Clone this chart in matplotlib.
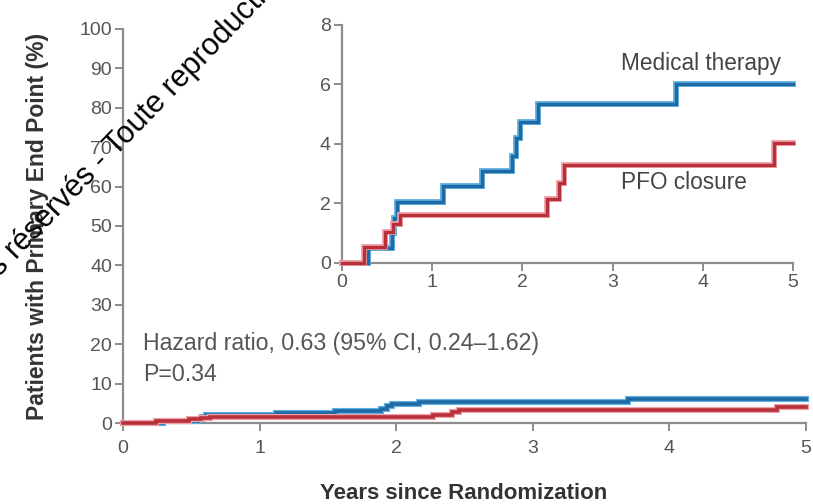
import numpy as np
import matplotlib
matplotlib.use("Agg")
import matplotlib.pyplot as plt
import matplotlib.patheffects as pe

plt.rcParams['font.family'] = ['Liberation Sans', 'DejaVu Sans']

# cumulative incidence (%) by years since randomization, step curves
med_t = [0, 0.29, 0.55, 0.58, 0.61, 1.12, 1.55, 1.89, 1.93, 1.97, 2.17, 3.70, 5.0]
med_y = [0, 0.5, 1.0, 1.5, 2.05, 2.6, 3.1, 3.6, 4.2, 4.75, 5.35, 6.0, 6.0]
pfo_t = [0, 0.24, 0.48, 0.57, 0.64, 2.27, 2.41, 2.46, 4.79, 5.0]
pfo_y = [0, 0.55, 1.05, 1.3, 1.6, 2.15, 2.7, 3.3, 4.03, 4.03]

main_yticks = [0, 10, 20, 30, 40, 50, 60, 70, 80, 90, 100]
inset_yticks = [0, 2, 4, 6, 8]
xticks = [0, 1, 2, 3, 4, 5]

blue, blue_edge = '#1f6aa5', '#5fb0e0'
red, red_edge = '#b8313a', '#f0a0a8'
axis_gray = '#8c8c8c'
text_gray = '#555555'

fig = plt.figure(figsize=(8.13, 5.04), dpi=100)


def style_axes(ax, fs):
    for s in ['top', 'right']:
        ax.spines[s].set_visible(False)
    for s in ['left', 'bottom']:
        ax.spines[s].set_color(axis_gray)
        ax.spines[s].set_linewidth(1.6)
    ax.tick_params(axis='both', colors=axis_gray, labelcolor=text_gray,
                   width=1.4, length=6, labelsize=fs, pad=2)


def draw_curve(ax, t, y, core, edge, lw):
    ax.step(t, y, where='post', color=core, lw=lw, clip_on=False,
            solid_joinstyle='miter', zorder=3,
            path_effects=[pe.Stroke(linewidth=lw + 1.8, foreground=edge),
                          pe.Normal()])


# main panel
ax = fig.add_axes([0.1513, 0.1607, 0.8401, 0.7818])
style_axes(ax, 14)
ax.set_xlim(0, 5)
ax.set_ylim(0, 100)
ax.set_xticks(xticks)
ax.set_yticks(main_yticks)
ax.tick_params(axis='x', pad=6)
draw_curve(ax, med_t, med_y, blue, blue_edge, 2.6)
draw_curve(ax, pfo_t, pfo_y, red, red_edge, 2.6)
ax.set_xlabel('Years since Randomization', fontsize=16, fontweight='bold',
              color='#333333')
ax.xaxis.set_label_coords(0.499, -0.153)
ax.set_ylabel('Patients with Primary End Point (%)', fontsize=16.5,
              fontweight='bold', color='#333333')
ax.yaxis.set_label_coords(-0.108, 0.5)
ax.text(0.15, 20.3, 'Hazard ratio, 0.63 (95% CI, 0.24\u20131.62)',
        fontsize=16.7, color=text_gray, va='center')
ax.text(0.15, 12.2, 'P=0.34', fontsize=16.7, color=text_gray, va='center')

# inset zoom on 0-8%
ins = fig.add_axes([0.4207, 0.4782, 0.5547, 0.4722])
ins.patch.set_alpha(0)
style_axes(ins, 14)
ins.set_xlim(0, 5)
ins.set_ylim(0, 8)
ins.set_xticks(xticks)
ins.set_yticks(inset_yticks)
ins.tick_params(axis='x', pad=2)
draw_curve(ins, med_t, med_y, blue, blue_edge, 2.4)
draw_curve(ins, pfo_t, pfo_y, red, red_edge, 2.4)
ins.text(3.09, 6.72, 'Medical therapy', fontsize=16.3, color='#444444',
         va='center')
ins.text(3.09, 2.72, 'PFO closure', fontsize=16.3, color='#444444',
         va='center')

# diagonal rights notice, starting below the lower-left corner
fig.text(-0.113, 0.262,
         'Tous droits réservés - Toute reproduction interdite',
         fontsize=22, color='black', rotation=46, rotation_mode='anchor',
         ha='left', va='baseline', zorder=10,
         family=['Liberation Sans', 'DejaVu Sans'])

fig.savefig('out.png', dpi=100)
